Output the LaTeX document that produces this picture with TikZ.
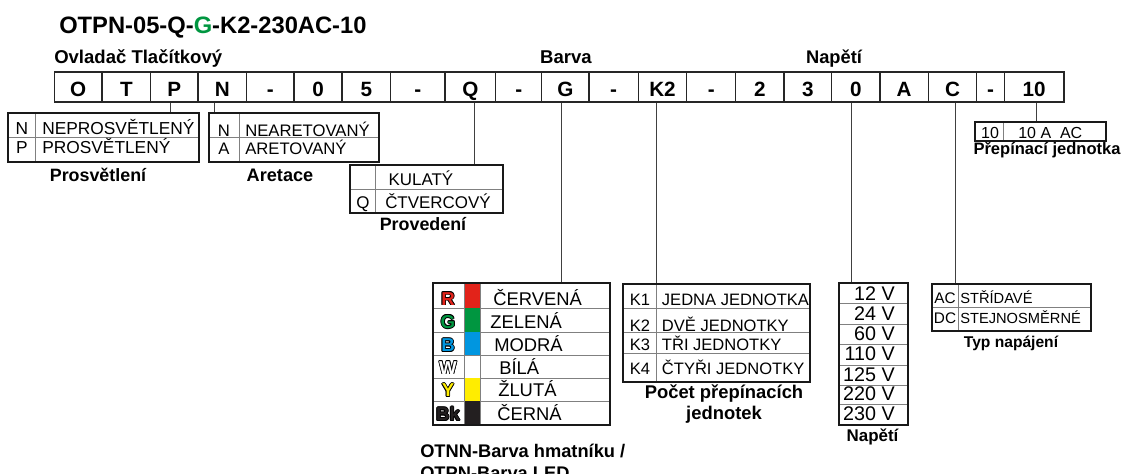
\documentclass[tikz,border=0pt]{standalone}
\usepackage{fontspec}
\setmainfont{Liberation Sans}
\usetikzlibrary{fit}
\definecolor{ledred}{RGB}{226,35,26}
\definecolor{ledgreen}{RGB}{0,150,64}
\definecolor{ledblue}{RGB}{0,150,224}
\definecolor{ledyellow}{RGB}{255,237,0}
\definecolor{ledblack}{RGB}{35,31,32}
\newcommand\outlet[2]{%
  \rlap{\kern.6pt#2}\rlap{\kern-.6pt#2}%
  \rlap{\raisebox{.6pt}{#2}}\rlap{\raisebox{-.6pt}{#2}}%
  \rlap{\kern.45pt\raisebox{.45pt}{#2}}\rlap{\kern-.45pt\raisebox{.45pt}{#2}}%
  \rlap{\kern.45pt\raisebox{-.45pt}{#2}}\rlap{\kern-.45pt\raisebox{-.45pt}{#2}}%
  \textcolor{#1}{#2}}
\tikzset{
  cell/.style   ={draw=black!85, line width=0.8pt, inner sep=0pt, minimum height=22.5pt,
                  font=\bfseries\fontsize{15.5}{18}\selectfont,
                  text height=14.6pt, text depth=0pt},
  optbox/.style ={draw=black!90, line width=1.6pt, inner sep=0pt},
  divline/.style={black!50, line width=0.6pt},
  opt/.style    ={inner sep=0pt, anchor=base west, font=\fontsize{#1}{#1}\selectfont},
  key/.style    ={inner sep=0pt, anchor=base, font=\fontsize{#1}{#1}\selectfont},
  lbl/.style    ={inner sep=0pt, anchor=base, font=\bfseries\fontsize{#1}{16}\selectfont},
  lbl/.default=13.6,
  conn/.style   ={draw=black!75, line width=0.6pt}
}
\begin{document}
\begin{tikzpicture}[x=0.75pt, y=-0.75pt]
    \useasboundingbox (0,0) rectangle (1125,474);
    \node[lbl=17.8, anchor=base west] (title) at (59,33.3)
      {OTPN-05-Q-\textcolor{ledgreen}{G}-K2-230AC-10};
    \node[lbl=13.9, anchor=base west] (ovl) at (54,63.3) {Ovladač Tlačítkový};
    \node[lbl=13.9] (barva) at (566,64) {Barva};
    \node[lbl=13.7] (napeti) at (834,64) {Napětí};
    \foreach \t/\a/\b [count=\i] in {O/54.3/102, T/102/150.7, P/150.7/198, N/198/246.7,
        -/246.7/294, 0/294/342, 5/342/390.7, -/390.7/445, Q/445/495.7, -/495.7/541.7,
        G/541.7/589, -/589/638.3, K2/638.3/686.7, -/686.7/735.7, 2/735.7/784, 3/784/831.7,
        0/831.7/880, A/880/928.3, C/928.3/976.7, -/976.7/1004.3, 10/1004.3/1064}
      \node[cell, minimum width={(\b-\a)*0.75pt}] (c\i) at ({(\a+\b)/2},87) {\t};
    \draw[divline] (35.7,113.3) -- (35.7,161.7) (8.3,137.3) -- (199,137.3);
    \node[optbox, fit={(8.3,113.3) (199,161.7)}] (bP) {};
    \foreach \k/\t/\y [count=\i] in {N/NEPROSVĚTLENÝ/135, P/PROSVĚTLENÝ/154}{
      \node[key=13] (bPk\i) at (22,\y) {\k};
      \node[opt=13] (bPt\i) at (42,\y) {\t};}
    \draw[divline] (239.3,113.3) -- (239.3,161.7) (209,137.3) -- (379.3,137.3);
    \node[optbox, fit={(209,113.3) (379.3,161.7)}] (bA) {};
    \foreach \k/\t/\y [count=\i] in {N/NEARETOVANÝ/136.7, A/ARETOVANÝ/155}{
      \node[key=12.5] (bAk\i) at (224,\y) {\k};
      \node[opt=12.5] (bAt\i) at (245,\y) {\t};}
    \draw[divline] (375.7,165) -- (375.7,213.3) (350,189.3) -- (503.3,189.3);
    \node[optbox, fit={(350,165) (503.3,213.3)}] (bQ) {};
    \foreach \k/\t/\x/\y [count=\i] in {{}/KULATÝ/388.3/186, Q/ČTVERCOVÝ/385/208.3}{
      \node[key=12.7] (bQk\i) at (363,\y) {\k};
      \node[opt=12.7] (bQt\i) at (\x,\y) {\t};}
    \foreach \l/\c/\t/\x/\y/\ya/\yb [count=\i] in {
        R/ledred/ČERVENÁ/493/305/283.3/308.3, G/ledgreen/ZELENÁ/490/328.3/308.3/332.3,
        B/ledblue/MODRÁ/494/351.7/332.3/355.7, W/white/BÍLÁ/499/374/355.7/378.3,
        Y/ledyellow/ŽLUTÁ/498/396.7/378.3/401, Bk/ledblack/ČERNÁ/497/420.7/401/425}{
      \fill[\c] (464,\ya) rectangle (480.7,\yb);
      \draw[divline] (432.7,\yb) -- (610,\yb);
      \node[key=14, font=\bfseries\fontsize{14}{16}\selectfont] (bGk\i) at (448,\y) {\outlet{\c}{\l}};
      \node[opt=13.8] (bGt\i) at (\x,\y) {\t};}
    \draw[divline] (464,283.3) -- (464,425) (480.7,283.3) -- (480.7,425);
    \node[optbox, fit={(432.7,283.3) (610,425)}] (bG) {};
    \draw[divline] (656.7,284) -- (656.7,381.7);
    \foreach \y in {308.3, 332.7, 353.3} \draw[divline] (623.3,\y) -- (810,\y);
    \node[optbox, fit={(623.3,284) (810,381.7)}] (bK) {};
    \foreach \k/\t/\y [count=\i] in {K1/JEDNA JEDNOTKA/305, K2/DVĚ JEDNOTKY/331,
        K3/TŘI JEDNOTKY/350, K4/ČTYŘI JEDNOTKY/374}{
      \node[key=12.4] (bKk\i) at (640,\y) {\k};
      \node[opt=12.4] (bKt\i) at (661.7,\y) {\t};}
    \foreach \y in {303.3, 324.3, 344, 365, 385, 404.3} \draw[divline] (839,\y) -- (908.3,\y);
    \node[optbox, fit={(839,282.7) (908.3,425)}] (bU) {};
    \foreach \t/\y [count=\i] in {12 V/300, 24 V/320, 60 V/340.7, 110 V/360.7,
        125 V/381.7, 220 V/400.7, 230 V/420.7}
      \node[opt=14.8, anchor=base east] (bUt\i) at (895,\y) {\t};
    \draw[divline] (958.3,284) -- (958.3,330.7) (931.7,307.3) -- (1090.7,307.3);
    \node[optbox, fit={(931.7,284) (1090.7,330.7)}] (bT) {};
    \foreach \k/\t/\y [count=\i] in {AC/STŘÍDAVÉ/303.3, DC/STEJNOSMĚRNÉ/323.3}{
      \node[key=11.5] (bTk\i) at (945,\y) {\k};
      \node[opt=11] (bTt\i) at (960,\y) {\t};}
    \draw[divline] (1003.3,122.3) -- (1003.3,140.7);
    \node[optbox, fit={(975,122.3) (1105.7,140.7)}] (bJ) {};
    \node[key=12] (bJk) at (990,138.5) {10};
    \node[opt=12] (bJt) at (1018,138.5) {10 A\ \ AC};
    \foreach \c/\b/\s in {3/bP/-4, 4/bA/-8, 9/bQ/3.6, 11/bG/-3.6, 13/bK/-6.5,
        17/bU/-4.3, 19/bT/3.2, 21/bJ/2.5}{
      \coordinate (t\c) at ([xshift=\s*0.75pt]c\c.south);
      \draw[conn] (t\c) -- (t\c |- \b.north);}
    \node[lbl=13.4] (lP) at (98,181.7) {Prosvětlení};
    \node[lbl=13.6] (lA) at (280,181.7) {Aretace};
    \node[lbl=13.4] (lQ) at (423,230) {Provedení};
    \node[lbl=13.7, align=left, anchor=base west] (lG) at (420,479) {OTNN-Barva hmatníku /\\OTPN-Barva LED};
    \node[lbl=13.8, align=center] (lK) at (724,419.6) {Počet přepínacích\\jednotek};
    \node[lbl=12.7] (lU) at (872.5,441.7) {Napětí};
    \node[lbl=11.7] (lT) at (1011,347.3) {Typ napájení};
    \node[lbl=12.4] (lJ) at (1047,155) {Přepínací jednotka};
\end{tikzpicture}
\end{document}
